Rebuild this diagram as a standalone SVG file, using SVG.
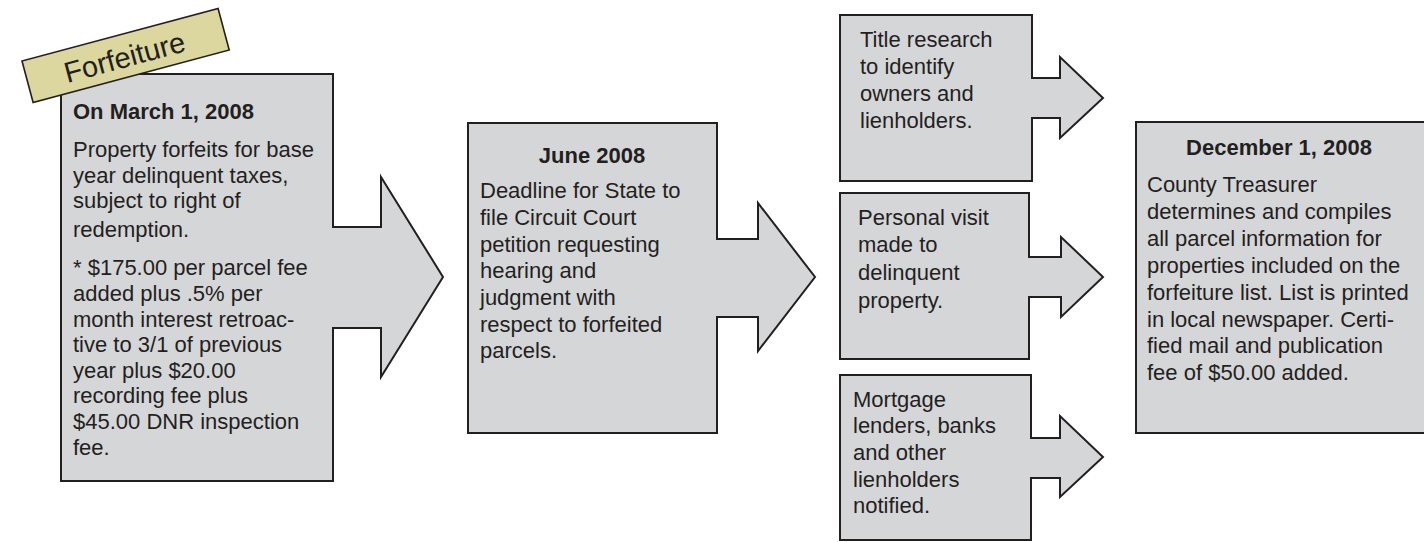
<svg xmlns="http://www.w3.org/2000/svg" width="1424" height="542" viewBox="0 0 1424 542">
<style>
.box{fill:#d5d6d8;stroke:#231f20;stroke-width:2;stroke-linejoin:miter}
.t{font-family:"Liberation Sans",Arial,sans-serif;font-size:22px;fill:#231f20}
.b{font-weight:bold}
.c{text-anchor:middle}
.lab{fill:#dbd79e;stroke:#231f20;stroke-width:1.6}
</style>
<rect width="1424" height="542" fill="#ffffff"/>
<g id="connectors"></g>
<g id="node-march">
<path class="box" d="M61,74 H333 V227 H381 V177 L443,277 L381,377 V328 H333 V481 H61 Z"/>
<text class="t b" x="73" y="119">On March 1, 2008</text>
<text class="t" x="73" y="157">Property forfeits for base</text>
<text class="t" x="73" y="183">year delinquent taxes,</text>
<text class="t" x="73" y="208">subject to right of</text>
<text class="t" x="73" y="237">redemption.</text>
<text class="t" x="73" y="275">* $175.00 per parcel fee</text>
<text class="t" x="73" y="301">added plus .5% per</text>
<text class="t" x="73" y="327">month interest retroac-</text>
<text class="t" x="73" y="352">tive to 3/1 of previous</text>
<text class="t" x="73" y="378">year plus $20.00</text>
<text class="t" x="73" y="403">recording fee plus</text>
<text class="t" x="73" y="429">$45.00 DNR inspection</text>
<text class="t" x="73" y="455">fee.</text>
</g>
<g id="label-forfeiture" transform="translate(22,61) rotate(-15)">
<rect class="lab" x="0" y="0" width="203" height="43"/>
<text class="t c" x="100" y="33" style="font-size:29px">Forfeiture</text>
</g>
<g id="node-june">
<path class="box" d="M468,123 H717 V239 H758 V203 L815,277 L758,351 V317 H717 V433 H468 Z"/>
<text class="t b c" x="592" y="163">June 2008</text>
<text class="t" x="480" y="198">Deadline for State to</text>
<text class="t" x="480" y="225">file Circuit Court</text>
<text class="t" x="480" y="252">petition requesting</text>
<text class="t" x="480" y="278">hearing and</text>
<text class="t" x="480" y="305">judgment with</text>
<text class="t" x="480" y="332">respect to forfeited</text>
<text class="t" x="480" y="358">parcels.</text>
</g>
<g id="node-title">
<path class="box" d="M840,15 H1032 V78 H1060 V57 L1103,98 L1060,138 V118 H1032 V181 H840 Z"/>
<text class="t" x="860" y="47">Title research</text>
<text class="t" x="860" y="74">to identify</text>
<text class="t" x="860" y="101">owners and</text>
<text class="t" x="860" y="128">lienholders.</text>
</g>
<g id="node-visit">
<path class="box" d="M840,193 H1029 V257 H1061 V237 L1103,277 L1061,317 V297 H1029 V359 H840 Z"/>
<text class="t" x="858" y="225">Personal visit</text>
<text class="t" x="858" y="252">made to</text>
<text class="t" x="858" y="280">delinquent</text>
<text class="t" x="858" y="308">property.</text>
</g>
<g id="node-mortgage">
<path class="box" d="M840,375 H1031 V438 H1060 V416 L1103,457 L1060,497 V478 H1031 V540 H840 Z"/>
<text class="t" x="853" y="407">Mortgage</text>
<text class="t" x="853" y="433">lenders, banks</text>
<text class="t" x="853" y="460">and other</text>
<text class="t" x="853" y="487">lienholders</text>
<text class="t" x="853" y="513">notified.</text>
</g>
<g id="node-december">
<rect class="box" x="1136" y="122" width="300" height="311"/>
<text class="t b c" x="1279" y="155">December 1, 2008</text>
<text class="t" x="1147" y="192">County Treasurer</text>
<text class="t" x="1147" y="219">determines and compiles</text>
<text class="t" x="1147" y="246">all parcel information for</text>
<text class="t" x="1147" y="273">properties included on the</text>
<text class="t" x="1147" y="300">forfeiture list. List is printed</text>
<text class="t" x="1147" y="327">in local newspaper. Certi-</text>
<text class="t" x="1147" y="353">fied mail and publication</text>
<text class="t" x="1147" y="380">fee of $50.00 added.</text>
</g>
</svg>
